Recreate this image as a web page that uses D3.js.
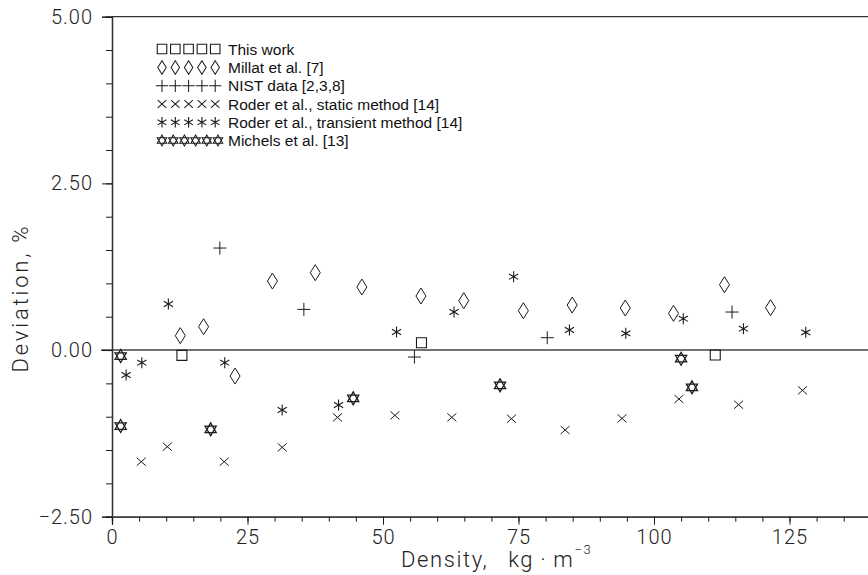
<!DOCTYPE html>
<html><head><meta charset="utf-8">
<script src="https://cdn.jsdelivr.net/npm/d3@7"></script>
<style>body{margin:0;background:#fff}svg{display:block}</style>
</head><body><svg id="c" width="868" height="575"></svg>
<script>
// ---- data (density kg/m3, deviation %) ----
const thisWorkX = [12.9, 57.1, 111.3];
const thisWorkY = [-0.08, 0.11, -0.075];
const millatX = [12.6, 16.9, 22.7, 29.6, 37.5, 46.1, 57.0, 64.9, 75.9, 84.9, 94.7, 103.6, 113.0, 121.5];
const millatY = [0.215, 0.35, -0.39, 1.035, 1.16, 0.945, 0.81, 0.74, 0.59, 0.675, 0.63, 0.55, 0.98, 0.635];
const nistX = [19.9, 35.4, 55.8, 80.3, 114.4];
const nistY = [1.53, 0.61, -0.105, 0.185, 0.57];
const staticX = [5.4, 10.2, 20.7, 31.4, 41.6, 52.2, 62.7, 73.7, 83.6, 94.1, 104.6, 115.6, 127.4];
const staticY = [-1.675, -1.45, -1.675, -1.46, -1.01, -0.98, -1.01, -1.03, -1.2, -1.025, -0.735, -0.82, -0.605];
const transientX = [2.6, 5.5, 10.4, 20.8, 31.4, 41.8, 52.5, 63.1, 74.1, 84.4, 94.8, 105.4, 116.5, 128.0];
const transientY = [-0.375, -0.19, 0.69, -0.19, -0.9, -0.825, 0.27, 0.57, 1.10, 0.30, 0.25, 0.47, 0.32, 0.265];
const michelsX = [1.6, 1.6, 18.2, 44.5, 71.6, 105.0, 107.0];
const michelsY = [-0.09, -1.14, -1.19, -0.725, -0.53, -0.13, -0.56];

const legendLabels = ["This work", "Millat et al. [7]", "NIST data [2,3,8]",
  "Roder et al., static method [14]", "Roder et al., transient method [14]", "Michels et al. [13]"];
const xTickLabels = [0, 25, 50, 75, 100, 125];
const yTickLabels = [5.00, 2.50, 0.00, -2.50];

// ---- layout ----
const svg = d3.select("#c");
const x = d3.scaleLinear().domain([0, 140]).range([112, 112 + 140 * 5.42]);
const y = d3.scaleLinear().domain([-2.5, 5]).range([516.7, 16.7]);

const ink = "#1a1a1a";
const tickFont = "Roboto, 'Liberation Sans', sans-serif";

// top frame line
svg.append("line").attr("x1", x(0)).attr("x2", 868).attr("y1", y(5)).attr("y2", y(5))
  .attr("stroke", "#333").attr("stroke-width", 1.3);

// zero line
svg.append("line").attr("x1", x(0) - 11).attr("x2", 868).attr("y1", y(0)).attr("y2", y(0))
  .attr("stroke", "#444").attr("stroke-width", 1.4);

// x axis minor ticks
const xMinor = d3.axisBottom(x).tickValues(d3.range(0, 141, 5)).tickSize(5).tickFormat("");
const gxm = svg.append("g").attr("transform", `translate(0,${y(-2.5)})`).call(xMinor);
// x axis major
const xMajor = d3.axisBottom(x).tickValues(xTickLabels).tickSize(8).tickFormat(d3.format("d")).tickPadding(2);
const gx = svg.append("g").attr("transform", `translate(0,${y(-2.5)})`).call(xMajor);
[gxm, gx].forEach(g => {
  g.select(".domain").attr("stroke", "#333").attr("stroke-width", 1.3);
  g.selectAll(".tick line").attr("stroke", ink).attr("stroke-width", 1);
});
gx.selectAll(".tick text").attr("font-family", tickFont).attr("font-weight", 300)
  .attr("font-size", 20).attr("letter-spacing", 1).attr("fill", "#222").attr("dy", "0.85em");

// y axis minor
const yMinor = d3.axisLeft(y).tickValues(d3.range(-2.5, 5.01, 0.5)).tickSize(6).tickFormat("");
const gym = svg.append("g").attr("transform", `translate(${x(0)},0)`).call(yMinor);
const yMajor = d3.axisLeft(y).tickValues(yTickLabels).tickSize(10)
  .tickFormat(d => d3.format(".2f")(d).replace("-", "\u2212\u2009")).tickPadding(9);
const gy = svg.append("g").attr("transform", `translate(${x(0)},0)`).call(yMajor);
[gym, gy].forEach(g => {
  g.select(".domain").attr("stroke", "#333").attr("stroke-width", 1.3);
  g.selectAll(".tick line").attr("stroke", ink).attr("stroke-width", 1);
});
gy.selectAll(".tick text").attr("font-family", tickFont).attr("font-weight", 300)
  .attr("font-size", 20).attr("letter-spacing", 1).attr("fill", "#222");

// axis titles
svg.append("text").attr("transform", `translate(28,298) rotate(-90)`)
  .attr("text-anchor", "middle").attr("font-family", tickFont).attr("font-weight", 300)
  .attr("font-size", 22).attr("letter-spacing", 2.8).attr("fill", "#222").text("Deviation, %");
const xt = svg.append("text").attr("x", 401).attr("y", 567)
  .attr("font-family", tickFont).attr("font-weight", 300).attr("font-size", 22)
  .attr("letter-spacing", 1.6).attr("fill", "#222");
xt.append("tspan").text("Density,\u2002 kg\u2009\u00B7\u2009m");
xt.append("tspan").attr("dy", -13).attr("font-size", 13).text("\u22123");

// ---- marker shapes ----
const shapes = {
  square: "M-5,-5H5V5H-5Z",
  diamond: "M0,-8L5,0L0,8L-5,0Z",
  plus: "M-6.5,0H6.5M0,-6.5V6.5",
  cross: "M-4.5,-4L4.5,4M-4.5,4L4.5,-4",
  aster: "M0,-5.5V5.5M-4.6,-2.7L4.6,2.7M-4.6,2.7L4.6,-2.7",
  star: "M0,-6.5L5.6,3.25L-5.6,3.25ZM0,6.5L5.6,-3.25L-5.6,-3.25Z"
};
const series = [
  {xs: thisWorkX, ys: thisWorkY, shape: "square", sw: 1.1},
  {xs: millatX, ys: millatY, shape: "diamond", sw: 1},
  {xs: nistX, ys: nistY, shape: "plus", sw: 1},
  {xs: staticX, ys: staticY, shape: "cross", sw: 1},
  {xs: transientX, ys: transientY, shape: "aster", sw: 1.1},
  {xs: michelsX, ys: michelsY, shape: "star", sw: 1.25}
];

series.forEach(s => {
  svg.append("g").selectAll("path").data(d3.zip(s.xs, s.ys)).join("path")
    .attr("transform", d => `translate(${x(d[0])},${y(d[1])})`)
    .attr("d", shapes[s.shape]).attr("fill", "none").attr("stroke", ink)
    .attr("stroke-width", s.sw);
});

// ---- legend ----
const legRowY = [49, 67.5, 85.8, 104, 122.3, 140.5];
const lg = svg.append("g");
series.forEach((s, i) => {
  const n = s.shape === "star" ? 6 : 5;
  const step = s.shape === "star" ? 11.2 : 13.3;
  const sc = s.shape === "diamond" ? 0.85 : (s.shape === "star" ? 0.85 : 0.95);
  for (let k = 0; k < n; k++) {
    lg.append("path")
      .attr("transform", `translate(${162 + k * step},${legRowY[i]}) scale(${sc})`)
      .attr("d", shapes[s.shape]).attr("fill", "none").attr("stroke", ink)
      .attr("stroke-width", (s.shape === "star" ? 1 : s.sw) / sc);
  }
  lg.append("text").attr("x", 228).attr("y", legRowY[i] + 5.5)
    .attr("font-family", "'Liberation Sans', Arial, sans-serif").attr("font-size", 15.5)
    .attr("fill", "#111").text(legendLabels[i]);
});
</script>
</body></html>
